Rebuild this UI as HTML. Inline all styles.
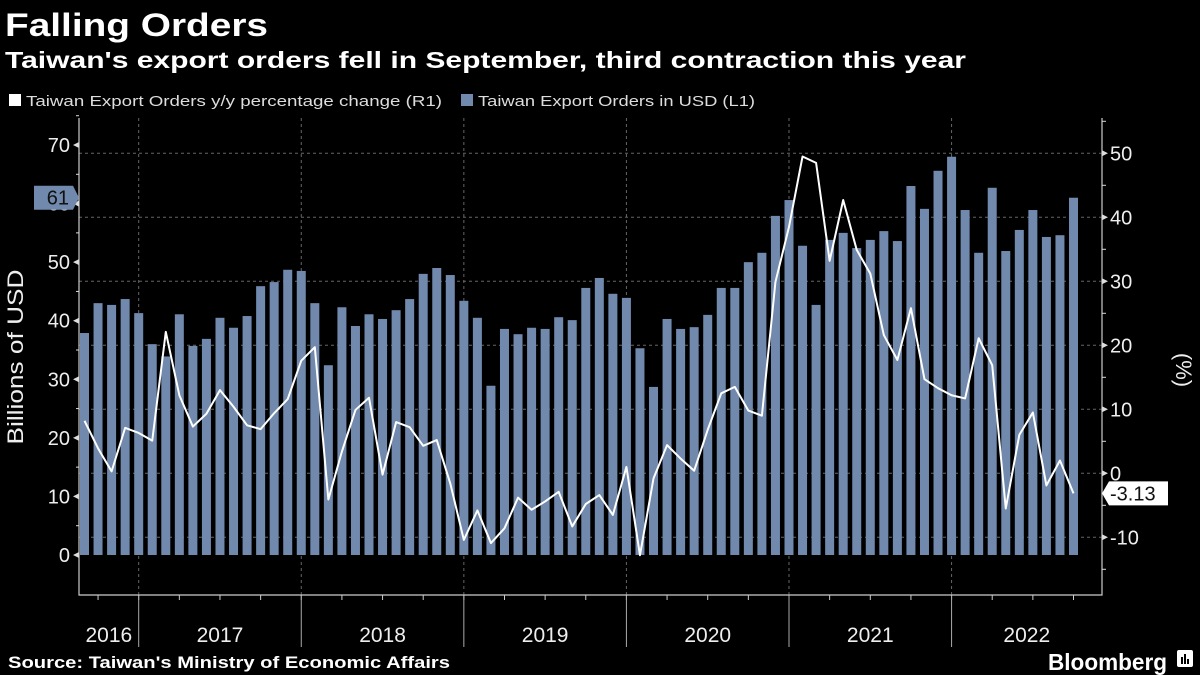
<!DOCTYPE html>
<html><head><meta charset="utf-8"><style>
html,body{margin:0;padding:0;background:#000;width:1200px;height:675px;overflow:hidden}
svg{display:block;font-family:"Liberation Sans",sans-serif}
</style></head><body>
<svg id="chart" width="1200" height="675" viewBox="0 0 1200 675">
<text x="5" y="36" fill="#fff" font-size="32" font-weight="bold" textLength="263" lengthAdjust="spacingAndGlyphs">Falling Orders</text>
<text x="5" y="68" fill="#fff" font-size="23" font-weight="bold" textLength="961" lengthAdjust="spacingAndGlyphs">Taiwan's export orders fell in September, third contraction this year</text>
<g>
<rect x="9" y="94" width="12" height="12" fill="#fff"/>
<text x="26" y="106" fill="#ddd" font-size="15" textLength="416" lengthAdjust="spacingAndGlyphs">Taiwan Export Orders y/y percentage change (R1)</text>
<rect x="461" y="94" width="12" height="12" fill="#7089ad"/>
<text x="478" y="106" fill="#ddd" font-size="15" textLength="277" lengthAdjust="spacingAndGlyphs">Taiwan Export Orders in USD (L1)</text>
</g>
<g id="grid"></g><g id="bars"></g><g id="line"></g><g id="axes"></g>
<text transform="translate(23,357) rotate(-90)" text-anchor="middle" fill="#eee" font-size="22" textLength="175" lengthAdjust="spacingAndGlyphs">Billions of USD</text>
<text transform="translate(1176,370) rotate(90)" text-anchor="middle" fill="#eee" font-size="22">(%)</text>
<text x="8" y="668" fill="#fff" font-size="17" font-weight="bold" textLength="442" lengthAdjust="spacingAndGlyphs">Source: Taiwan's Ministry of Economic Affairs</text>
<text x="1048" y="670" fill="#fff" font-size="23" font-weight="bold" textLength="119" lengthAdjust="spacingAndGlyphs">Bloomberg</text>
<g><rect x="1177" y="650" width="16" height="17" rx="2" fill="#fff"/><rect x="1181" y="657" width="2" height="7" fill="#000"/><rect x="1184" y="654" width="2" height="10" fill="#000"/><rect x="1187" y="659" width="2" height="5" fill="#000"/></g>
</svg>
<script>
const usdValues = [37.9,43.0,42.7,43.7,41.3,36.0,33.9,41.1,35.7,36.9,40.5,38.8,40.8,45.9,46.6,48.7,48.5,43.0,32.4,42.3,39.1,41.1,40.3,41.8,43.7,48.0,49.0,47.8,43.4,40.5,28.9,38.6,37.7,38.8,38.6,40.6,40.1,45.6,47.3,44.6,43.9,35.3,28.7,40.3,38.6,38.9,41.0,45.6,45.6,50.0,51.6,57.9,60.6,52.8,42.7,53.8,55.0,52.4,53.8,55.3,53.6,63.0,59.1,65.6,68.0,58.9,51.6,62.7,51.9,55.5,58.9,54.3,54.6,61.0];
const yoyValues = [8.2,3.9,0.3,7.1,6.3,5.1,22.1,12.2,7.3,9.3,13.0,10.4,7.5,6.9,9.4,11.6,17.6,19.7,-4.1,3.4,9.9,11.8,-0.2,8.0,7.2,4.3,5.2,-1.6,-10.4,-5.8,-10.9,-8.6,-3.8,-5.7,-4.4,-2.9,-8.3,-4.8,-3.4,-6.5,1.0,-12.8,-0.8,4.4,2.3,0.4,6.8,12.5,13.5,9.8,9.0,29.9,38.5,49.5,48.5,33.2,42.7,34.9,31.2,21.6,17.7,25.8,14.7,13.3,12.2,11.7,21.1,16.9,-5.5,6.0,9.5,-1.9,2.0,-3.13];
const leftTicks = [0,10,20,30,40,50,60,70];
const rightTicks = [-10,0,10,20,30,40,50];
const yearLabels = ["2016","2017","2018","2019","2020","2021","2022"];
const startYear = 2016, startMonth = 8;

const NS="http://www.w3.org/2000/svg";
function mk(tag,attrs,parent){const e=document.createElementNS(NS,tag);for(const k in attrs)e.setAttribute(k,attrs[k]);parent.appendChild(e);return e;}
const X0=84.5, STEP=13.548;
const x = i => X0 + i*STEP;
const yL = v => 555 - v*5.857;
const yR = v => 473.3 - v*6.4;
const grid=document.getElementById('grid'),bars=document.getElementById('bars'),line=document.getElementById('line'),axes=document.getElementById('axes');
const monthOf = i => ((startMonth-1+i)%12)+1;
const yearOf = i => startYear + Math.floor((startMonth-1+i)/12);

rightTicks.forEach(v=>{const g=mk('line',{x1:79,x2:1102,y1:yR(v),y2:yR(v),stroke:'#666','stroke-dasharray':'3,3','stroke-width':1},grid);

});
const n=usdValues.length;
let decs=[];
for(let i=0;i<n;i++){const m=monthOf(i);
 if(m%3===0){const t=mk('line',{x1:x(i),x2:x(i),y1:595,y2:600,stroke:'#ccc'},axes);
 
 }
 if(m===12){decs.push(i);
 const d=mk('line',{x1:x(i),x2:x(i),y1:118,y2:595,stroke:'#666','stroke-dasharray':'3,3'},grid);
 
 
 const s=mk('line',{x1:x(i),x2:x(i),y1:595,y2:647,stroke:'#aaa'},axes);
 
 }}
const bounds=[79].concat(decs.map(x)).concat([1102]);
yearLabels.forEach((yl,k)=>{const t=mk('text',{x:(bounds[k]+bounds[k+1])/2,y:642,'text-anchor':'middle',fill:'#eee','font-size':21},axes);t.textContent=yl;

});
usdValues.forEach((v,i)=>{const r=mk('rect',{x:x(i)-4.5,y:yL(v),width:9,height:555-yL(v),fill:'#7089ad'},bars);

});
const p=mk('polyline',{points:yoyValues.map((v,i)=>x(i)+','+yR(v)).join(' '),fill:'none',stroke:'#fff','stroke-width':2,'stroke-linejoin':'round'},line);


const fr=mk('path',{d:'M79 118V595H1102V118',fill:'none',stroke:'#ccc','stroke-width':1.2},axes);


for(let v=0;v<=75;v+=5){const yy=yL(v);
 if(v%10===0){const a=mk('path',{d:`M79 ${yy-3}L73 ${yy}L79 ${yy+3}Z`,fill:'#ddd'},axes);
 
 }
 else{const a=mk('line',{x1:76,x2:79,y1:yy,y2:yy,stroke:'#ddd'},axes);
 
 }}
leftTicks.forEach(v=>{const t=mk('text',{x:70,y:yL(v)+7,'text-anchor':'end',fill:'#eee','font-size':20},axes);t.textContent=v;

});
for(let v=-15;v<=55;v+=5){const yy=yR(v);if(yy<118||yy>595)continue;
 if(v%10===0){const a=mk('path',{d:`M1102 ${yy-3}L1108 ${yy}L1102 ${yy+3}Z`,fill:'#ddd'},axes);
 
 }
 else{const a=mk('line',{x1:1102,x2:1106,y1:yy,y2:yy,stroke:'#ddd'},axes);
 
 }}
rightTicks.forEach(v=>{const t=mk('text',{x:1110,y:yR(v)+7,fill:'#eee','font-size':20},axes);t.textContent=(v<0?'-'+Math.abs(v):v);

});
const lu=usdValues[n-1], ly=yL(lu);
const b1=mk('path',{d:`M34 ${ly-12}H73L79 ${ly}L73 ${ly+12}H34Z`,fill:'#7089ad'},axes);


const t1=mk('text',{x:69,y:ly+7,'text-anchor':'end',fill:'#111','font-size':20},axes);t1.textContent=Math.round(lu);


const lyo=yoyValues[n-1], ry=yR(lyo);
const b2=mk('path',{d:`M1102 ${ry}L1109 ${ry-12}H1168V${ry+12}H1109Z`,fill:'#fff'},axes);


const t2=mk('text',{x:1110,y:ry+7,fill:'#111','font-size':20},axes);t2.textContent=lyo.toFixed(2);


</script>
</body></html>
